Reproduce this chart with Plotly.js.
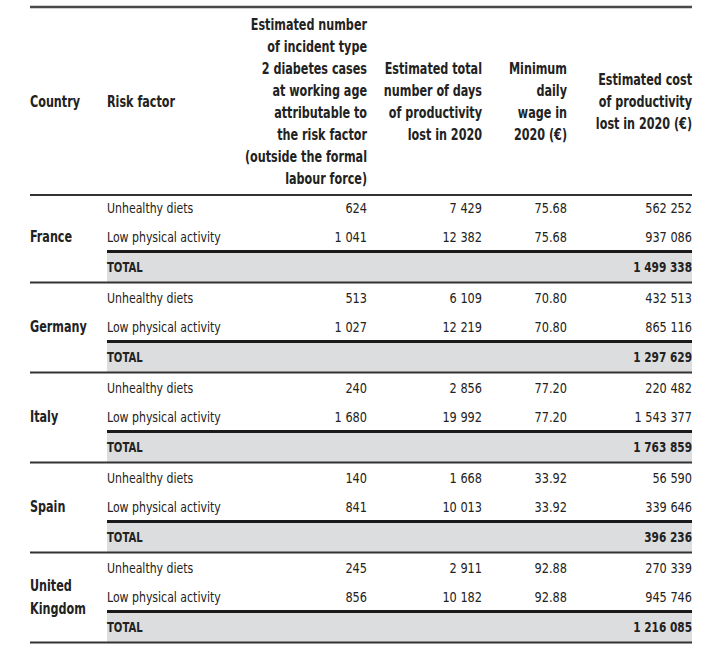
<!DOCTYPE html>
<html>
<head>
<meta charset="utf-8">
<script src="https://cdn.plot.ly/plotly-3.0.1.min.js"></script>
<style>html,body{margin:0;padding:0;background:#fff;}#chart{width:717px;height:657px;}</style>
</head>
<body>
<div id="chart"></div>
<script>
// ---------- DATA ----------
const countries = ['France', 'Germany', 'Italy', 'Spain', 'United Kingdom'];
const riskFactors = ['Unhealthy diets', 'Low physical activity'];
const incidentCases = [[624, 1041], [513, 1027], [240, 1680], [140, 841], [245, 856]];
const daysLost = [[7429, 12382], [6109, 12219], [2856, 19992], [1668, 10013], [2911, 10182]];
const minDailyWage = [75.68, 70.80, 77.20, 33.92, 92.88];
const costLost = [[562252, 937086], [432513, 865116], [220482, 1543377], [56590, 339646], [270339, 945746]];
const totalCost = [1499338, 1297629, 1763859, 396236, 1216085];
const totalLabel = 'TOTAL';

const headerCountry = ['Country'];
const headerRisk = ['Risk factor'];
const headerCases = ['Estimated number', 'of incident type', '2 diabetes cases', 'at working age', 'attributable to', 'the risk factor', '(outside the formal', 'labour force)'];
const headerDays = ['Estimated total', 'number of days', 'of productivity', 'lost in 2020'];
const headerWage = ['Minimum', 'daily', 'wage in', '2020 (€)'];
const headerCost = ['Estimated cost', 'of productivity', 'lost in 2020 (€)'];

// ---------- LAYOUT CONSTANTS ----------
const W = 717, H = 657;
const FONT = '"DejaVu Sans Condensed", "DejaVu Sans", sans-serif';
const TXT = '#222222';
const xLeft = 30, xRight = 692, xRisk = 107;
const colRight = [367, 482, 567, 692];
const headerTop = 7, headerBottom = 195;
const headerMid = 103.5, headerStep = 22;
const blockTop0 = 192.5, blockH = 90;
const rowOffsets = [17, 46, 76];
const thickOffset = 59;

function fmt(n) {
  return String(n).replace(/\B(?=(\d{3})+(?!\d))/g, ' ');
}

const traces = [];
const stretch = [];   // horizontal condensing factor per trace (font is wider than the original)
function addText(xs, ys, texts, pos, size, bold, sx) {
  traces.push({
    type: 'scatter', mode: 'text', x: xs, y: ys, text: texts,
    textposition: pos, cliponaxis: false, hoverinfo: 'none', showlegend: false,
    textfont: {family: FONT, size: size, color: TXT, weight: bold ? 700 : 400}
  });
  stretch.push(sx);
}

// header
function headerCol(lines, x, pos) {
  const n = lines.length;
  addText(lines.map(() => x), lines.map((_, i) => headerMid + (i - (n - 1) / 2) * headerStep), lines, pos, 15, true, 0.83);
}
headerCol(headerCountry, xLeft, 'middle right');
headerCol(headerRisk, xRisk, 'middle right');
headerCol(headerCases, colRight[0], 'middle left');
headerCol(headerDays, colRight[1], 'middle left');
headerCol(headerWage, colRight[2], 'middle left');
headerCol(headerCost, colRight[3], 'middle left');

// body
const shapes = [];
const line = (x0, x1, y, w, c) => shapes.push({type: 'line', xref: 'x', yref: 'y', x0: x0, x1: x1, y0: y, y1: y, line: {color: c, width: w}, layer: 'above'});

countries.forEach((c, k) => {
  const top = blockTop0 + k * blockH;
  shapes.push({type: 'rect', xref: 'x', yref: 'y', x0: xRisk, x1: xRight, y0: top + thickOffset, y1: top + blockH, fillcolor: '#dcdddf', line: {width: 0}, layer: 'below'});
  line(xRisk, xRight, top + thickOffset, 3, '#1a1a1a');
  line(xLeft, xRight, top + blockH, 2, '#333333');

  const parts = c.split(' ');
  const cy = top + rowOffsets[1];
  const n = parts.length;
  addText(parts.map(() => xLeft), parts.map((_, i) => cy + (i - (n - 1) / 2) * 23), parts, 'middle right', 15, true, 0.83);

  const ys = rowOffsets.slice(0, 2).map(o => top + o);
  addText(ys.map(() => xRisk), ys, riskFactors, 'middle right', 14, false, 0.87);
  addText(ys.map(() => colRight[0]), ys, incidentCases[k].map(fmt), 'middle left', 14, false, 0.9);
  addText(ys.map(() => colRight[1]), ys, daysLost[k].map(fmt), 'middle left', 14, false, 0.9);
  addText(ys.map(() => colRight[2]), ys, ys.map(() => minDailyWage[k].toFixed(2)), 'middle left', 14, false, 0.9);
  addText(ys.map(() => colRight[3]), ys, costLost[k].map(fmt), 'middle left', 14, false, 0.9);
  addText([xRisk], [top + rowOffsets[2]], [totalLabel], 'middle right', 14, true, 0.8);
  addText([colRight[3]], [top + rowOffsets[2]], [fmt(totalCost[k])], 'middle left', 14, true, 0.84);
});

line(xLeft, xRight, headerTop, 2.5, '#4a4a4a');
line(xLeft, xRight, headerBottom, 2, '#333333');

const layout = {
  width: W, height: H,
  margin: {l: 0, r: 0, t: 0, b: 0},
  paper_bgcolor: '#ffffff', plot_bgcolor: '#ffffff',
  xaxis: {range: [0, W], visible: false, fixedrange: true},
  yaxis: {range: [H, 0], visible: false, fixedrange: true},
  shapes: shapes,
  showlegend: false
};
Plotly.newPlot('chart', traces, layout, {staticPlot: true, displayModeBar: false}).then(gd => {
  const groups = gd.querySelectorAll('.scatterlayer .trace');
  groups.forEach((g, i) => {
    const s = stretch[i] || 1;
    g.querySelectorAll('text').forEach(t => {
      const x = parseFloat(t.getAttribute('x')) || 0;
      t.setAttribute('transform', `matrix(${s},0,0,1,${x * (1 - s)},0)`);
    });
  });
});
</script>
</body>
</html>
